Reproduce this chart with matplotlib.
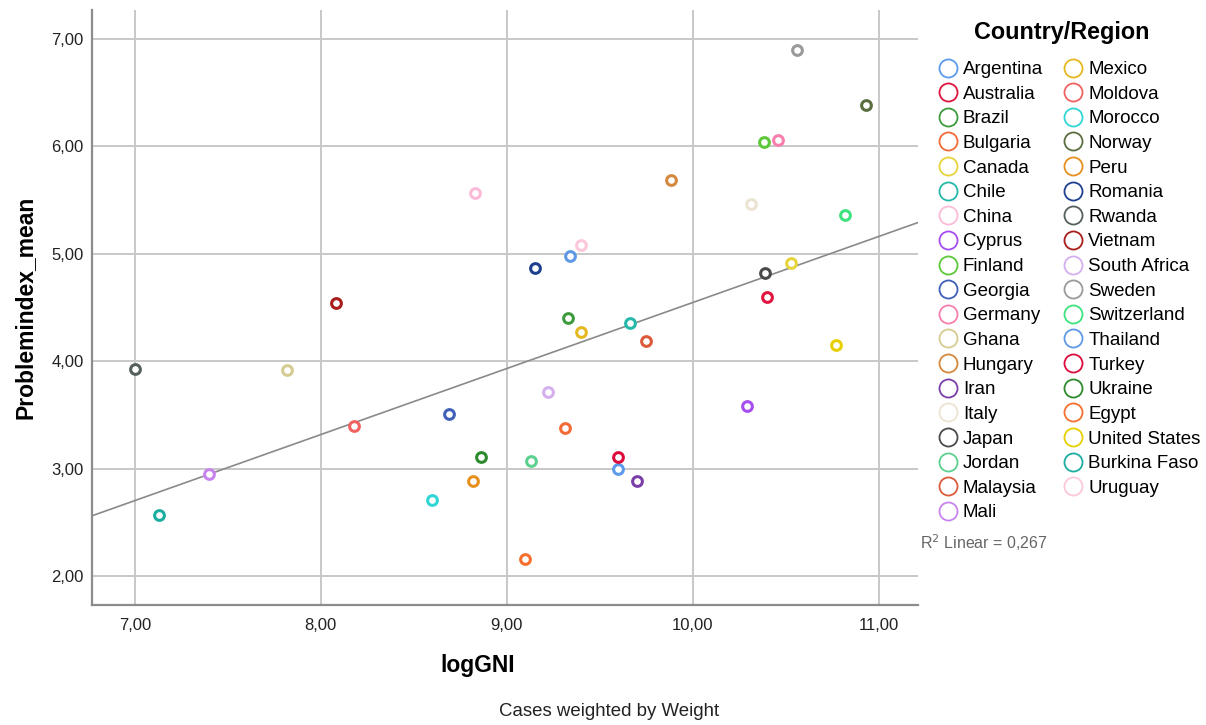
import matplotlib
matplotlib.use("Agg")
import matplotlib.pyplot as plt
from matplotlib.lines import Line2D

plt.rcParams['font.family'] = ['Liberation Sans', 'DejaVu Sans']

# countries in legend order
countries = ["Argentina", "Australia", "Brazil", "Bulgaria", "Canada", "Chile", "China",
             "Cyprus", "Finland", "Georgia", "Germany", "Ghana", "Hungary", "Iran", "Italy",
             "Japan", "Jordan", "Malaysia", "Mali", "Mexico", "Moldova", "Morocco", "Norway",
             "Peru", "Romania", "Rwanda", "Vietnam", "South Africa", "Sweden", "Switzerland",
             "Thailand", "Turkey", "Ukraine", "Egypt", "United States", "Burkina Faso", "Uruguay"]

log_gni = [9.60, 10.40, 9.33, 9.31, 10.53, 9.66, 8.83,
           10.29, 10.38, 8.69, 10.46, 7.82, 9.88, 9.70, 10.31,
           10.39, 9.13, 9.75, 7.40, 9.40, 8.18, 8.60, 10.93,
           8.82, 9.15, 7.00, 8.08, 9.22, 10.56, 10.82,
           9.34, 9.60, 8.86, 9.10, 10.77, 7.13, 9.40]

problem_mean = [3.00, 4.60, 4.40, 3.38, 4.91, 4.36, 5.57,
                3.58, 6.04, 3.51, 6.06, 3.92, 5.69, 2.88, 5.46,
                4.82, 3.07, 4.19, 2.95, 4.27, 3.40, 2.71, 6.39,
                2.88, 4.87, 3.93, 4.54, 3.71, 6.90, 5.36,
                4.98, 3.11, 3.11, 2.16, 4.15, 2.57, 5.08]

colors = ["#5b9bea", "#e0143e", "#3d9b3d", "#f26a36", "#e6d43a", "#26b8a8", "#fbbbd8",
          "#a64df0", "#5cc83a", "#3f5fb8", "#f77fae", "#d4cc90", "#d4883e", "#7a3fa8", "#ebe4d2",
          "#4a4a4a", "#5cd08e", "#dc5a3a", "#c884ee", "#e6b820", "#f06262", "#30d6d6", "#5a6e40",
          "#e6901e", "#1f3f8f", "#55605a", "#a81c1c", "#d4b0ee", "#9a9a9a", "#3ee27e",
          "#5e98e6", "#dc0c3c", "#2e8a2e", "#f5702e", "#e8d000", "#1aada0", "#fcc8dc"]

# fit line (SPSS weighted fit)
fit_intercept = -1.603
fit_slope = 0.615
r2_text = "R$^2$ Linear = 0,267"

x_ticks = [7, 8, 9, 10, 11]
y_ticks = [2, 3, 4, 5, 6, 7]

fig = plt.figure(figsize=(12.06, 7.25), dpi=100)
ax = fig.add_axes([92 / 1206, 1 - 605 / 725, 826 / 1206, 595 / 725])
ax.set_xlim(6.77, 11.21)
ax.set_ylim(1.73, 7.27)

ax.grid(True, color="#c8c8c8", linewidth=1.4, zorder=0)
ax.set_axisbelow(True)
for s in ["top", "right"]:
    ax.spines[s].set_visible(False)
for s in ["left", "bottom"]:
    ax.spines[s].set_color("#8c8c8c")
    ax.spines[s].set_linewidth(1.6)

xl = ax.get_xlim()
ax.plot(xl, [fit_intercept + fit_slope * v for v in xl], color="#8a8a8a", linewidth=1.2, zorder=2)

for c, x, y, col in zip(countries, log_gni, problem_mean, colors):
    ax.plot([x], [y], linestyle="none", marker="o", markersize=7, markerfacecolor="white",
            markeredgecolor=col, markeredgewidth=2.2, zorder=3)

ax.set_xticks(x_ticks)
ax.set_yticks(y_ticks)
ax.set_xticklabels([f"{v:.2f}".replace(".", ",") for v in x_ticks])
ax.set_yticklabels([f"{v:.2f}".replace(".", ",") for v in y_ticks])
ax.tick_params(axis="both", length=0, labelsize=12, labelcolor="#222222")
ax.tick_params(axis="x", pad=9)
ax.tick_params(axis="y", pad=6)

ax.set_xlabel("logGNI", fontsize=16.5, fontweight="bold")
ax.set_ylabel("Problemindex_mean", fontsize=16.5, fontweight="bold")
ax.xaxis.set_label_coords(0.467, -0.082)
ax.yaxis.set_label_coords(-0.067, 0.5)

# legend title drawn on its own, entries below it
fig.text(1062 / 1206, 1 - 32 / 725, "Country/Region", fontsize=16.8, fontweight="bold",
         ha="center", va="center")
handles = [Line2D([], [], linestyle="none", marker="o", markersize=13, markerfacecolor="white",
                  markeredgecolor=col, markeredgewidth=1.3) for col in colors]
leg = fig.legend(handles, countries, loc="upper left", bbox_to_anchor=(940.5 / 1206, 1 - 61 / 725),
                 ncol=2, frameon=False, fontsize=13.5,
                 handlelength=0.8, handletextpad=0.4, columnspacing=1.2, labelspacing=0.4,
                 borderpad=0, borderaxespad=0)

fig.text(920 / 1206, 1 - 543 / 725, r2_text, fontsize=11.5, color="#666666", va="center", ha="left")
fig.text(609 / 1206, 1 - 712 / 725, "Cases weighted by Weight", fontsize=13.4, color="#222222",
         ha="center", va="center")

fig.savefig("out.png", dpi=100)
